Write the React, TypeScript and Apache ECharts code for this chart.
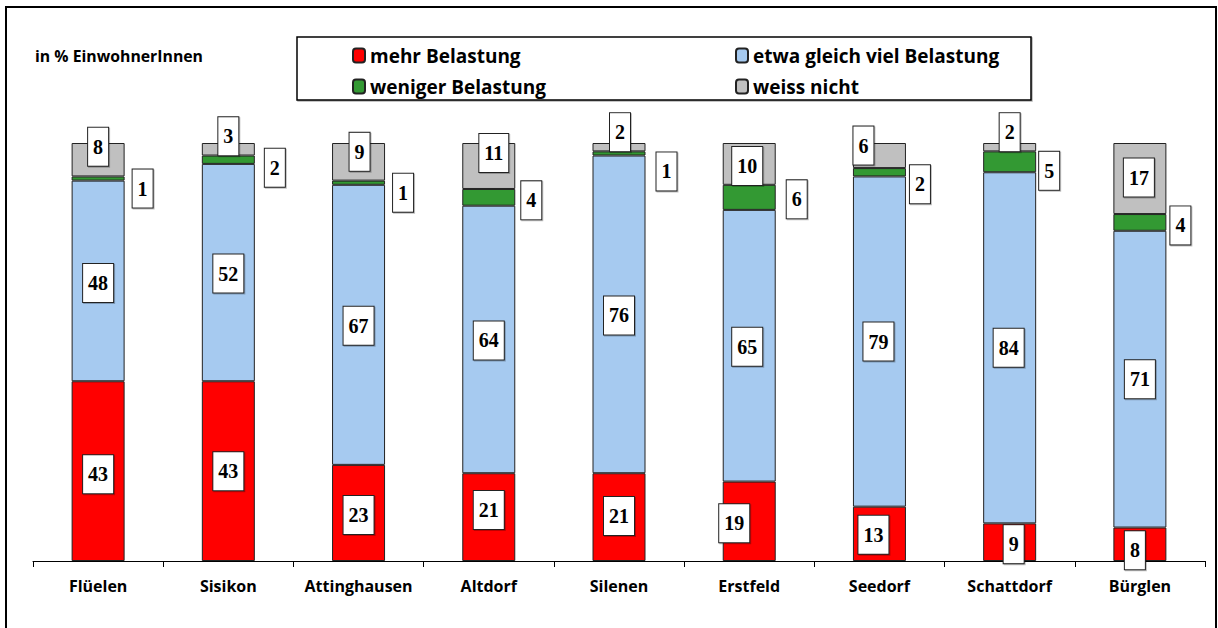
import React, { useEffect, useRef } from "react";
import * as echarts from "echarts";

const categories = ["Flüelen", "Sisikon", "Attinghausen", "Altdorf", "Silenen", "Erstfeld", "Seedorf", "Schattdorf", "Bürglen"];
const mehr = [43, 43, 23, 21, 21, 19, 13, 9, 8];
const gleich = [48, 52, 67, 64, 76, 65, 79, 84, 71];
const weniger = [1, 2, 1, 4, 1, 6, 2, 5, 4];
const weissNicht = [8, 3, 9, 11, 2, 10, 6, 2, 17];
const seriesNames = ["mehr Belastung", "etwa gleich viel Belastung", "weniger Belastung", "weiss nicht"];
const seriesColors = ["#FF0000", "#A6CAF0", "#339933", "#C0C0C0"];

// label nudges [dx, dy] per category (manual label placement of the original)
const mehrNudge = [[0, 3], [0, 0], [0, 2], [0, -7], [0, -1], [-15, 2], [-6, 1], [4, 2], [-5, 6]];
const gleichNudge = [[0, 2], [0, 1], [0, 1], [0, 1], [0, 1], [-2, 1], [-1, 0], [-1, 0], [0, 0]];
const wenigerNudge = [[0, 10], [2, 8], [0, 10], [-2, 3], [3, 18], [3, 2], [-4, 12], [-5, 9], [-4, 3]];
const weissNudge = [[0, -13], [0, -13], [1, -10], [5, -13], [1, -15], [-2, 2], [-16, -10], [0, -15], [-1, -1]];

const SANS = "'Open Sans', 'Noto Sans', sans-serif";
const SERIF = "'Liberation Serif', 'DejaVu Serif', serif";

const labelBox = {
  show: true,
  fontFamily: SERIF,
  fontWeight: "bold" as const,
  fontSize: 20,
  color: "#000",
  lineHeight: 20,
  backgroundColor: "#fff",
  borderColor: "#222",
  borderWidth: 1,
  padding: [9, 5, 9, 5],
  shadowColor: "rgba(0,0,0,0.25)",
  shadowOffsetX: 1,
  shadowOffsetY: 1,
  shadowBlur: 1,
};

function buildData(values: number[], nudges: number[][]) {
  return values.map((v, i) => ({ value: v, label: { offset: nudges[i] } }));
}

export default function App() {
  const ref = useRef<HTMLDivElement>(null);
  useEffect(() => {
    if (!ref.current) return;
    const chart = echarts.init(ref.current, null, { renderer: "svg" });
    const valueSets = [mehr, gleich, weniger, weissNicht];
    const nudgeSets = [mehrNudge, gleichNudge, wenigerNudge, weissNudge];
    const series = valueSets.map((vals, k) => ({
      name: seriesNames[k],
      type: "bar" as const,
      stack: "total",
      barWidth: 53,
      itemStyle: { color: seriesColors[k], borderColor: "#222", borderWidth: 1 },
      label: {
        ...labelBox,
        position: k === 2 ? "right" : "inside",
        distance: 8,
        formatter: "{c}",
      },
      data: buildData(vals, nudgeSets[k]),
    }));
    const legendPos = [
      { left: 352, top: 46 },
      { left: 735, top: 46 },
      { left: 352, top: 77 },
      { left: 735, top: 77 },
    ];
    const legends = seriesNames.map((n, k) => ({
      data: [n],
      left: legendPos[k].left,
      top: legendPos[k].top,
      itemWidth: 12,
      itemHeight: 14,
      padding: 0,
      selectedMode: false,
      textStyle: { fontFamily: SANS, fontWeight: "bold", fontSize: 19, color: "#000" },
    }));
    chart.setOption({
      animation: false,
      backgroundColor: "#fff",
      grid: { left: 33, right: 13, top: 143, bottom: 67 },
      legend: legends,
      xAxis: {
        type: "category",
        data: categories,
        axisLine: { show: true, lineStyle: { color: "#000", width: 1 } },
        axisTick: { show: true, interval: 0, length: 6, lineStyle: { color: "#000" } },
        axisLabel: { interval: 0, fontFamily: SANS, fontWeight: "bold", fontSize: 16, color: "#000", margin: 17 },
      },
      yAxis: { type: "value", min: 0, max: 100, show: false, splitLine: { show: false } },
      series,
      graphic: [
        {
          type: "rect",
          shape: { x: 6, y: 7, width: 1210, height: 660 },
          style: { fill: "none", stroke: "#000", lineWidth: 2 },
          silent: true,
          z: -1,
        },
        {
          type: "rect",
          shape: { x: 297, y: 37, width: 734, height: 63 },
          style: {
            fill: "#fff",
            stroke: "#000",
            lineWidth: 1.5,
            shadowColor: "rgba(0,0,0,0.3)",
            shadowOffsetX: 1,
            shadowOffsetY: 1,
            shadowBlur: 1,
          },
          silent: true,
          z: -1,
        },
        {
          type: "text",
          left: 35,
          top: 48,
          style: { text: "in % EinwohnerInnen", fontFamily: SANS, fontWeight: "bold", fontSize: 15.8, fill: "#000" },
          silent: true,
        },
      ],
    });
    return () => chart.dispose();
  }, []);
  return (
    <div
      ref={ref}
      style={{ position: "fixed", left: 0, top: 0, width: 1218, height: 628, background: "#fff" }}
    />
  );
}
